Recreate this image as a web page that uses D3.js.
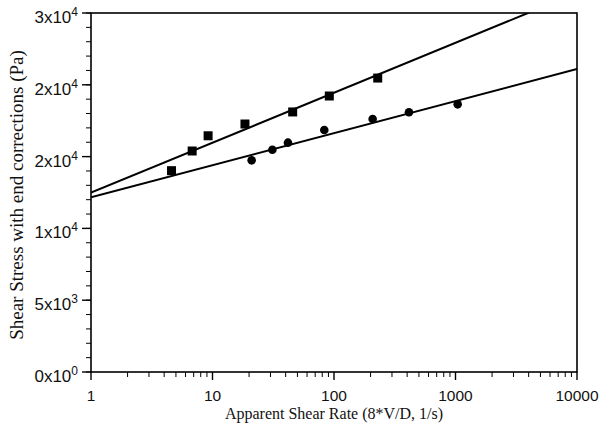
<!DOCTYPE html>
<html>
<head>
<meta charset="utf-8">
<script src="https://cdn.jsdelivr.net/npm/d3@7"></script>
<style>
  body { margin: 0; background: #fff; }
  svg { display: block; }
  .tick-label { font-family: "Liberation Sans", Arial, sans-serif; font-size: 15.5px; fill: #111; }
  .axis-title { font-family: "Liberation Serif", "Times New Roman", serif; font-size: 16px; fill: #111; }
</style>
</head>
<body>
<svg width="602" height="429"></svg>
<script>
// squares (upper series)
var squareRate = [4.6, 6.8, 9.2, 18.5, 45.7, 91.5, 229];
var squareStress = [14020, 15390, 16450, 17270, 18110, 19220, 20470];

// circles (lower series)
var circleRate = [21.0, 31.1, 41.8, 83.2, 208, 414, 1042];
var circleStress = [14740, 15480, 15970, 16850, 17620, 18090, 18640];

// fitted lines, evaluated at the ends of the axis
var fitRate = [1, 10000];
var squareFit = [12490, 26400];
var circleFit = [12170, 21100];

var xTicks = [1, 10, 100, 1000, 10000];
var xTickLabels = ["1", "10", "100", "1000", "10000"];
var yTicks = [0, 5000, 10000, 15000, 20000, 25000];
var yTickMantissa = ["0", "5", "1", "2", "2", "3"];
var yTickExponent = ["0", "3", "4", "4", "4", "4"];

var svg = d3.select("svg"),
  plotLeft = 91, plotRight = 577, plotTop = 13, plotBottom = 372;

var x = d3.scaleLog().domain([1, 10000]).range([plotLeft, plotRight]);
var y = d3.scaleLinear().domain([0, 25000]).range([plotBottom, plotTop]);

svg.append("defs").append("clipPath").attr("id", "plot")
  .append("rect")
  .attr("x", plotLeft).attr("y", plotTop)
  .attr("width", plotRight - plotLeft).attr("height", plotBottom - plotTop);

// frame
svg.append("rect")
  .attr("x", plotLeft).attr("y", plotTop)
  .attr("width", plotRight - plotLeft).attr("height", plotBottom - plotTop)
  .attr("fill", "none").attr("stroke", "#000").attr("stroke-width", 1.6);

// x ticks
var xMinor = [];
for (var d = 1; d < 10000; d *= 10) {
  for (var k = 2; k < 10; k++) xMinor.push(d * k);
}
svg.selectAll(".xminor").data(xMinor).enter().append("line")
  .attr("x1", function(d) { return x(d); }).attr("x2", function(d) { return x(d); })
  .attr("y1", plotBottom).attr("y2", plotBottom + 5)
  .attr("stroke", "#000").attr("stroke-width", 1);
svg.selectAll(".xmajor").data(xTicks).enter().append("line")
  .attr("x1", function(d) { return x(d); }).attr("x2", function(d) { return x(d); })
  .attr("y1", plotBottom).attr("y2", plotBottom + 8)
  .attr("stroke", "#000").attr("stroke-width", 1.4);
svg.selectAll(".xlabel").data(xTicks).enter().append("text")
  .attr("class", "tick-label")
  .attr("x", function(d) { return x(d); })
  .attr("y", 401)
  .attr("text-anchor", "middle")
  .text(function(d, i) { return xTickLabels[i]; });

// y ticks
svg.selectAll(".yminor").data(d3.range(0, 25001, 1000)).enter().append("line")
  .attr("x1", plotLeft - 5).attr("x2", plotLeft)
  .attr("y1", function(d) { return y(d); }).attr("y2", function(d) { return y(d); })
  .attr("stroke", "#000").attr("stroke-width", 1);
svg.selectAll(".ymajor").data(yTicks).enter().append("line")
  .attr("x1", plotLeft - 9).attr("x2", plotLeft)
  .attr("y1", function(d) { return y(d); }).attr("y2", function(d) { return y(d); })
  .attr("stroke", "#000").attr("stroke-width", 1.4);
var ylab = svg.selectAll(".ylabel").data(yTicks).enter().append("text")
  .attr("class", "tick-label")
  .style("font-size", "17px")
  .attr("x", 78)
  .attr("y", function(d) { return y(d) + 10; })
  .attr("text-anchor", "end");
ylab.append("tspan").text(function(d, i) { return yTickMantissa[i] + "x10"; });
ylab.append("tspan").attr("dy", -7).style("font-size", "12px")
  .text(function(d, i) { return yTickExponent[i]; });

// fit lines
var line = d3.line()
  .x(function(d) { return x(d[0]); })
  .y(function(d) { return y(d[1]); });
var lines = svg.append("g").attr("clip-path", "url(#plot)");
lines.append("path").datum(d3.zip(fitRate, squareFit))
  .attr("d", line).attr("fill", "none").attr("stroke", "#000").attr("stroke-width", 2);
lines.append("path").datum(d3.zip(fitRate, circleFit))
  .attr("d", line).attr("fill", "none").attr("stroke", "#000").attr("stroke-width", 2);

// markers
svg.selectAll(".sq").data(d3.zip(squareRate, squareStress)).enter().append("rect")
  .attr("x", function(d) { return x(d[0]) - 4.5; })
  .attr("y", function(d) { return y(d[1]) - 4.5; })
  .attr("width", 9).attr("height", 9)
  .attr("fill", "#000");
svg.selectAll(".ci").data(d3.zip(circleRate, circleStress)).enter().append("circle")
  .attr("cx", function(d) { return x(d[0]); })
  .attr("cy", function(d) { return y(d[1]); })
  .attr("r", 4.3)
  .attr("fill", "#000");

// axis titles
svg.append("text").attr("class", "axis-title")
  .attr("x", (plotLeft + plotRight) / 2).attr("y", 419)
  .attr("text-anchor", "middle")
  .text("Apparent Shear Rate (8*V/D, 1/s)");
svg.append("text").attr("class", "axis-title")
  .style("font-size", "19px")
  .attr("transform", "translate(23," + 195 + ") rotate(-90)")
  .attr("text-anchor", "middle")
  .text("Shear Stress with end corrections (Pa)");
</script>
</body>
</html>
